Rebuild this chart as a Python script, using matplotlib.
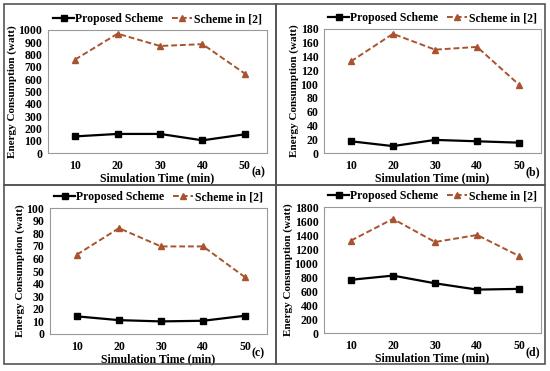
import matplotlib
matplotlib.use('Agg')
import matplotlib.pyplot as plt
from matplotlib.patches import Rectangle

plt.rcParams['font.family'] = ['Liberation Serif', 'DejaVu Serif']
plt.rcParams['font.weight'] = 'bold'

times = [10, 20, 30, 40, 50]
x_labels = ['10', '20', '30', '40', '50']

proposed_a = [135, 155, 155, 103, 152]
scheme2_a = [760, 970, 870, 885, 645]
proposed_b = [17, 10, 19, 17, 15]
scheme2_b = [133, 173, 150, 154, 99]
proposed_c = [14, 11, 10, 10.5, 14.5]
scheme2_c = [63, 84, 69.5, 69.5, 45]
proposed_d = [760, 820, 710, 620, 630]
scheme2_d = [1320, 1630, 1300, 1400, 1100]

panels = [
    ('(a)', proposed_a, scheme2_a, 1000, 100),
    ('(b)', proposed_b, scheme2_b, 180, 20),
    ('(c)', proposed_c, scheme2_c, 100, 10),
    ('(d)', proposed_d, scheme2_d, 1800, 200),
]

W, H = 550, 371
fig = plt.figure(figsize=(5.5, 3.71), dpi=100)

# plot boxes in pixels: left, top, right, bottom
boxes = [(48, 30, 267, 153), (324, 29, 541, 153),
         (50, 208, 267, 334), (324, 207, 541, 333)]
# panel frames in pixels
frames = [(4, 4, 275.5, 185), (275.5, 4, 545, 185),
          (4, 185, 275.5, 364), (275.5, 185, 545, 364)]

for (l, t, r, b) in frames:
    fig.patches.append(Rectangle((l / W, 1 - b / H), (r - l) / W, (b - t) / H,
                                 transform=fig.transFigure, fill=False,
                                 edgecolor='#555555', linewidth=1.2))

xpos = list(range(len(times)))
fs = 8.5
for (tag, prop, sch, ytop, ystep), (l, t, r, b) in zip(panels, boxes):
    ax = fig.add_axes([l / W, 1 - b / H, (r - l) / W, (b - t) / H])
    ax.plot(xpos, prop, color='black', lw=1.6, marker='s', ms=4,
            label='Proposed Scheme')
    ax.plot(xpos, sch, color='#A9532E', lw=1.4, ls=(0, (3, 1.5)), marker='^', ms=4,
            label='Scheme in [2]')
    ax.set_xlim(-0.64, 4.52)
    ax.set_ylim(0, ytop)
    ax.set_yticks(range(0, ytop + 1, ystep))
    ax.set_xticks(xpos)
    ax.set_xticklabels(x_labels)
    ax.tick_params(length=0, labelsize=fs, pad=4)
    ax.tick_params(axis='x', pad=5)
    for s in ax.spines.values():
        s.set_color('#999999')
        s.set_linewidth(0.8)
    ax.set_xlabel('Simulation Time (min)', fontsize=fs, fontweight='bold', labelpad=0)
    ax.set_ylabel('Energy Consumption (watt)', fontsize=8, fontweight='bold', labelpad=1)
    ax.legend(loc='lower center', bbox_to_anchor=(0.5, 0.98), ncol=2,
              frameon=False, fontsize=fs, handlelength=1.7, handletextpad=0.1,
              columnspacing=0.8, borderaxespad=0.2)
    ax.text(0.96, -0.155, tag, transform=ax.transAxes, ha='center', va='center',
            fontsize=fs, fontweight='bold')

fig.savefig('out.png', dpi=100)
